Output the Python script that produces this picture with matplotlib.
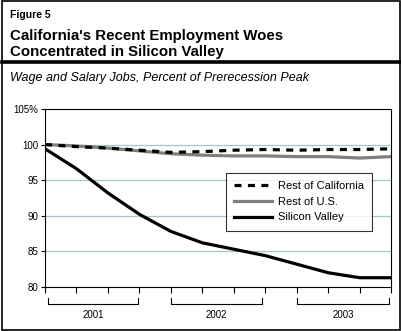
import numpy as np
import matplotlib
matplotlib.use("Agg")
from matplotlib import pyplot as plt
from matplotlib import transforms
from matplotlib.patches import Rectangle

plt.rcParams['font.family'] = ['Liberation Sans', 'DejaVu Sans']

# quarterly, 2001 Q1 .. 2003 Q4
quarters = np.arange(12)
rest_ca = [100.0, 99.7, 99.5, 99.2, 98.9, 99.0, 99.2, 99.3, 99.2, 99.3, 99.3, 99.4]
rest_us = [100.0, 99.8, 99.5, 99.1, 98.7, 98.5, 98.4, 98.4, 98.3, 98.3, 98.1, 98.3]
silicon = [99.4, 96.6, 93.2, 90.2, 87.8, 86.2, 85.3, 84.4, 83.2, 82.0, 81.3, 81.3]
years = ["2001", "2002", "2003"]
year_spans = [(0.1, 2.95), (4.0, 6.9), (8.0, 10.93)]
yticks = [80, 85, 90, 95, 100, 105]
ytick_labels = ["80", "85", "90", "95", "100", "105%"]

fig = plt.figure(figsize=(4.02, 3.31), dpi=100)

# outer frame + heading
fig.patches.append(Rectangle((0.004, 0.004), 0.992, 0.992, transform=fig.transFigure,
                             fill=False, edgecolor='black', linewidth=1.2))
fig.text(0.025, 0.955, "Figure 5", fontsize=7.5, fontweight='bold', va='center')
fig.text(0.025, 0.868, "California's Recent Employment Woes\nConcentrated in Silicon Valley",
         fontsize=10.8, fontweight='bold', va='center', linespacing=1.15)
fig.add_artist(plt.Line2D([0.004, 0.996], [0.812, 0.812], transform=fig.transFigure,
                          color='black', linewidth=2.6))
fig.text(0.025, 0.763, "Wage and Salary Jobs, Percent of Prerecession Peak",
         fontsize=9, style='italic', va='center')

ax = fig.add_axes([0.112, 0.133, 0.861, 0.538])
for y in [85, 90, 95, 100]:
    ax.axhline(y, color='#a9c3cb', linewidth=0.9, zorder=0)

ax.plot(quarters, rest_us, color='#7f7f7f', linewidth=2.3, label='Rest of U.S.', zorder=2)
ax.plot(quarters, rest_ca, color='black', linewidth=2.3, linestyle=(0, (2.2, 2.0)),
        label='Rest of California', zorder=3)
ax.plot(quarters, silicon, color='black', linewidth=2.3, label='Silicon Valley', zorder=3)

ax.set_xlim(0, 11)
ax.set_ylim(80, 105)
ax.set_yticks(yticks)
ax.set_yticklabels(ytick_labels, fontsize=7)
ax.set_xticks(quarters)
ax.set_xticklabels([])
ax.tick_params(axis='x', direction='out', length=4, width=0.8)
ax.tick_params(axis='y', direction='out', length=3, width=0.8, pad=2)
for s in ax.spines.values():
    s.set_linewidth(0.8)

# year brackets below the axis
trans = transforms.blended_transform_factory(ax.transData, ax.transAxes)
for yr, (x0, x1) in zip(years, year_spans):
    ax.plot([x0, x0, x1, x1], [-0.06, -0.095, -0.095, -0.06], color='black',
            linewidth=0.8, transform=trans, clip_on=False)
    ax.text((x0 + x1) / 2, -0.155, yr, transform=trans, ha='center', va='center', fontsize=7)

handles, labels = ax.get_legend_handles_labels()
order = [1, 0, 2]
leg = ax.legend([handles[i] for i in order], [labels[i] for i in order],
                loc='upper left', bbox_to_anchor=(0.523, 0.64), fontsize=8,
                frameon=True, fancybox=False, edgecolor='black', handlelength=3.4,
                borderpad=0.75, labelspacing=0.5, handletextpad=0.5, borderaxespad=0)
leg.get_frame().set_linewidth(0.8)

fig.savefig("out.png", dpi=100)
